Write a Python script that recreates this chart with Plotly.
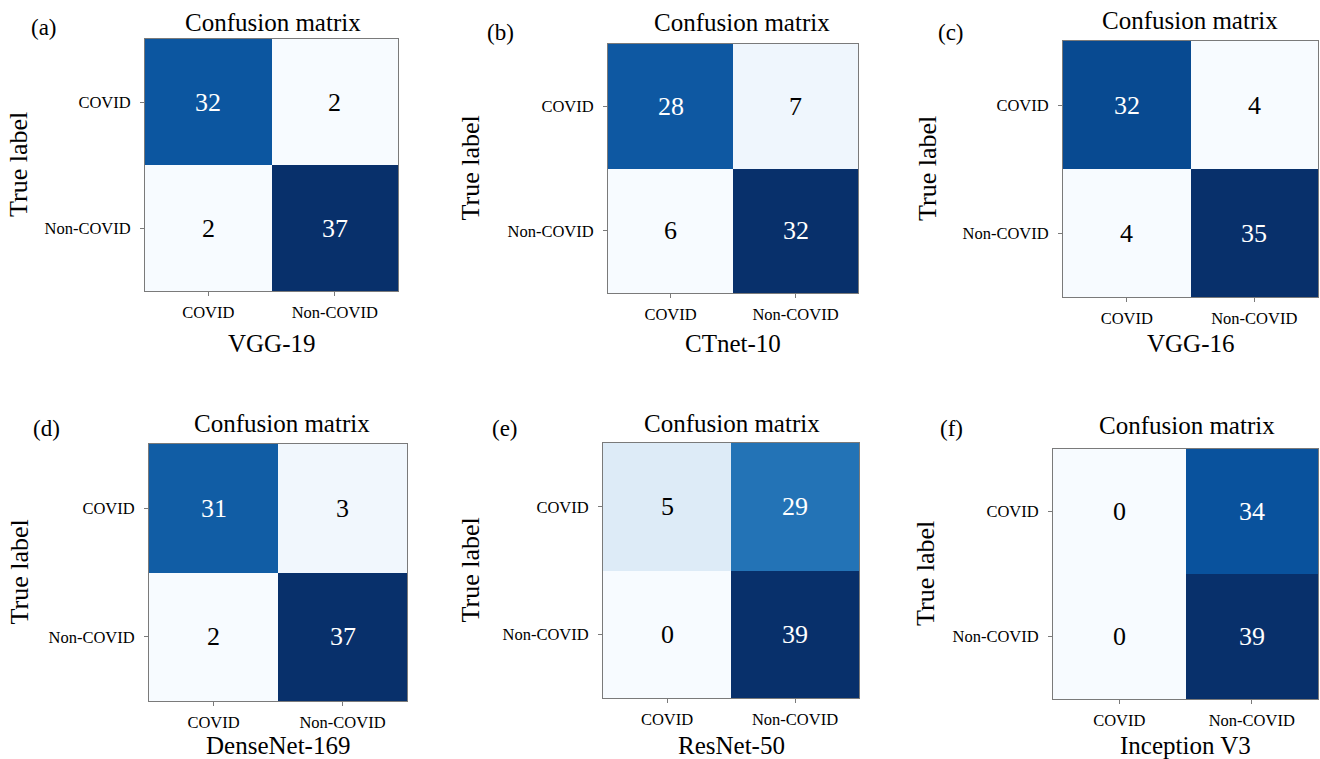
import plotly.graph_objects as go

W, H = 1320, 759

classes = ["COVID", "Non-COVID"]
panel_letters = ["(a)", "(b)", "(c)", "(d)", "(e)", "(f)"]
model_names = ["VGG-19", "CTnet-10", "VGG-16", "DenseNet-169", "ResNet-50", "Inception V3"]
cm_vgg19 = [[32, 2], [2, 37]]
cm_ctnet10 = [[28, 7], [6, 32]]
cm_vgg16 = [[32, 4], [4, 35]]
cm_densenet169 = [[31, 3], [2, 37]]
cm_resnet50 = [[5, 29], [0, 39]]
cm_inceptionv3 = [[0, 34], [0, 39]]
matrices = [cm_vgg19, cm_ctnet10, cm_vgg16, cm_densenet169, cm_resnet50, cm_inceptionv3]

# layout (window-pixel boxes of each plot area: left, right, top, bottom)
boxes = [(145, 398, 39, 291), (608, 858, 44, 293), (1063, 1318, 41, 297),
         (149, 407, 444, 701), (603, 859, 443, 698), (1053, 1318, 449, 699)]
title_pos = [(273, 22), (742, 23), (1190, 21), (282, 423), (732, 423), (1187, 425)]
letter_pos = [(44, 27), (501, 32), (951, 32), (46, 428), (505, 428), (951, 428)]
ylabel_x = [19, 470, 927, 19, 470, 925]
xlabel_y = [343, 343, 343, 745, 745, 745]

blues = ['rgb(247,251,255)', 'rgb(222,235,247)', 'rgb(198,219,239)', 'rgb(158,202,225)',
         'rgb(107,174,214)', 'rgb(66,146,198)', 'rgb(33,113,181)', 'rgb(8,81,156)', 'rgb(8,48,107)']
colorscale = [[i / (len(blues) - 1), c] for i, c in enumerate(blues)]

FONT = "Liberation Serif, Times New Roman, serif"

def px(x):
    return x / W

def py(y):
    return 1 - y / H

fig = go.Figure()
annotations = []
layout = {}
for i, cm in enumerate(matrices):
    n = i + 1
    xa = "x" if n == 1 else f"x{n}"
    ya = "y" if n == 1 else f"y{n}"
    xkey = "xaxis" if n == 1 else f"xaxis{n}"
    ykey = "yaxis" if n == 1 else f"yaxis{n}"
    L, R, T, B = boxes[i]
    flat = [v for row in cm for v in row]
    zmin, zmax = min(flat), max(flat)
    fig.add_trace(go.Heatmap(z=cm, x=classes, y=classes, xaxis=xa, yaxis=ya,
                             colorscale=colorscale, zmin=zmin, zmax=zmax,
                             showscale=False, hoverinfo="skip"))
    thresh = zmax / 2
    for r, row in enumerate(cm):
        for c, v in enumerate(row):
            annotations.append(dict(x=classes[c], y=classes[r], xref=xa, yref=ya,
                                    text=str(v), showarrow=False,
                                    font=dict(family=FONT, size=26,
                                              color="white" if v > thresh else "black")))
    axis_common = dict(showline=True, mirror=True, linecolor="#7a7a7a", linewidth=1,
                       ticks="outside", ticklen=4, tickcolor="#7a7a7a",
                       showgrid=False, zeroline=False, fixedrange=True,
                       tickfont=dict(family=FONT, size=16.5, color="black"))
    layout[xkey] = dict(domain=[px(L), px(R)], anchor=ya, ticklabelstandoff=2, **axis_common)
    layout[ykey] = dict(domain=[py(B), py(T)], anchor=xa, autorange="reversed",
                        ticklabelstandoff=6, **axis_common)
    tx, ty = title_pos[i]
    annotations.append(dict(x=px(tx), y=py(ty), xref="paper", yref="paper",
                            text="Confusion matrix", showarrow=False,
                            xanchor="center", yanchor="middle",
                            font=dict(family=FONT, size=25, color="black")))
    lx, ly = letter_pos[i]
    annotations.append(dict(x=px(lx), y=py(ly), xref="paper", yref="paper",
                            text=panel_letters[i], showarrow=False,
                            xanchor="center", yanchor="middle",
                            font=dict(family=FONT, size=23, color="black")))
    annotations.append(dict(x=px(ylabel_x[i]), y=py((T + B) / 2), xref="paper", yref="paper",
                            text="True label", showarrow=False, textangle=-90,
                            xanchor="center", yanchor="middle",
                            font=dict(family=FONT, size=26, color="black")))
    annotations.append(dict(x=px((L + R) / 2), y=py(xlabel_y[i]), xref="paper", yref="paper",
                            text=model_names[i], showarrow=False,
                            xanchor="center", yanchor="middle",
                            font=dict(family=FONT, size=25, color="black")))

fig.update_layout(width=W, height=H, margin=dict(l=0, r=0, t=0, b=0),
                  paper_bgcolor="white", plot_bgcolor="white",
                  annotations=annotations, **layout)

fig.write_html("out.html", config={"displayModeBar": False},
               post_script="document.body.style.margin='0';document.body.style.overflow='hidden';")
